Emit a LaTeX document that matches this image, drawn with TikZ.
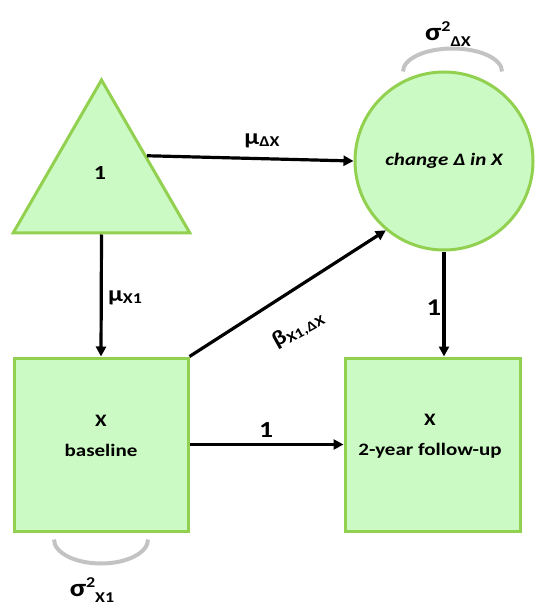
\documentclass[tikz,border=0pt]{standalone}
\usepackage{fontspec}
\setmainfont{Carlito}[FakeStretch=1.2]
\usetikzlibrary{shapes.geometric,arrows.meta,calc}
\definecolor{boxfill}{HTML}{CCFAC4}
\definecolor{boxline}{HTML}{92D050}
\definecolor{vargray}{HTML}{C3C3C3}
\newcommand{\fs}[1]{\fontsize{#1}{#1}\selectfont}
\newcommand{\sigvar}[1]{{\fs{25}σ}\raisebox{9pt}{\fs{15}2}\raisebox{-6pt}{\fs{15}#1}}
\begin{document}
\begin{tikzpicture}[x=1pt,y=-1pt,font=\bfseries,
  shapebox/.style={draw=boxline,fill=boxfill,line width=3pt},
  arr/.style={line width=3.2pt,-{Triangle[length=10pt,width=10pt]}},
  var/.style={draw=vargray,line width=4pt},
  lbl/.style={inner sep=0pt}]
\useasboundingbox (0,0) rectangle (535,609);
% nodes
\node[shapebox,regular polygon,regular polygon sides=3,minimum size=204pt,inner sep=0pt] (tri) at (101.5,182) {};
\node[lbl,font=\bfseries\fs{20}] (one) at (100,173) {1};
\node[shapebox,circle,minimum size=178pt,inner sep=0pt,font=\bfseries\itshape\fs{17.5}] (circ) at (444,161) {change Δ in X};
\node[shapebox,rectangle,minimum width=174pt,minimum height=173pt] (base) at (101,444.5) {};
\node[shapebox,rectangle,minimum width=175pt,minimum height=173pt] (fu) at (432.5,444.5) {};
\node[lbl,align=center,font=\bfseries\fontsize{17.5}{30}\selectfont] (baseT) at (101,436) {X\\baseline};
\node[lbl,align=center,font=\bfseries\fontsize{17.5}{30}\selectfont] (fuT) at (430,436) {X\\2-year follow-up};
% connectors
\draw[arr] (tri.side 3) -- (circ.west);
\draw[arr] (tri.side 2) -- (base.north);
\draw[arr] (circ.south) -- (circ.south |- fu.north);
\draw[arr] (base.north east) -- (circ.230);
\draw[arr] (base.east) -- (fu.west);
% variance arcs
\draw[var] ($(base.south)+(-47,7)$) arc[start angle=180,end angle=0,x radius=47,y radius=24];
\draw[var] ($(circ.north)+(-41,1)$) arc[start angle=180,end angle=360,x radius=49.5,y radius=23];
% labels
\node[lbl] (muDX) at (262,141) {{\fs{22}μ}\raisebox{-2pt}{\fs{15}ΔX}};
\node[lbl] (muX1) at (125,298) {{\fs{22}μ}\raisebox{-2pt}{\fs{15}X1}};
\node[lbl,font=\bfseries\fs{23}] (oneH) at (266,430) {1};
\node[lbl,font=\bfseries\fs{24}] (oneV) at (434,308) {1};
\node[lbl,rotate=29] (beta) at (298,330) {{\fs{21}β}\raisebox{-3pt}{\fs{14}X1,ΔX}};
\node[lbl] (sigX1) at (92,590) {\sigvar{X1}};
\node[lbl] (sigDX) at (448,34) {\sigvar{ΔX}};
\end{tikzpicture}
\end{document}
